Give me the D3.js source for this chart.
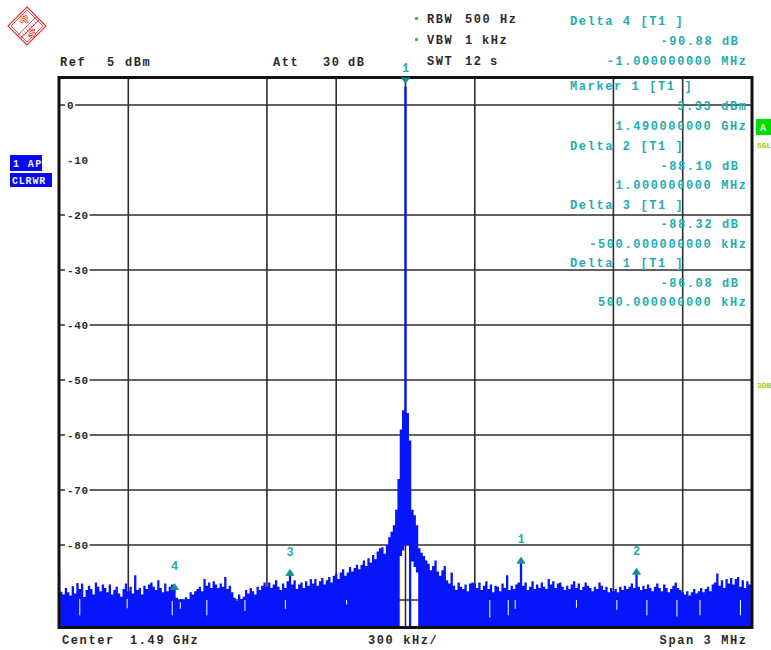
<!DOCTYPE html>
<html>
<head>
<meta charset="utf-8">
<script src="https://cdn.jsdelivr.net/npm/d3@7"></script>
<style>
  body { margin: 0; background: #fff; }
  svg { display: block; }
  text { font-family: "Liberation Mono", "DejaVu Sans Mono", monospace; font-weight: bold; white-space: pre; }
</style>
</head>
<body>
<svg id="chart" width="771" height="650"></svg>
<script>
// spectrum trace, 10 kHz per point, -1500 .. +1500 kHz from centre (dBm)
const freqStartKHz = -1500;
const freqStepKHz = 10;
const traceDbm = [
  -85.0, -88.5, -89.0, -87.8, -88.6, -89.2, -87.5, -88.8, -86.9, -88.0,
  -87.0, -89.5, -88.2, -87.4, -88.0, -89.0, -86.8, -87.6, -88.4, -87.2,
  -87.8, -88.6, -87.2, -89.0, -88.2, -87.6, -88.8, -89.4, -88.0, -87.0,
  -88.4, -87.6, -88.8, -85.5, -88.2, -87.8, -89.0, -87.4, -88.0, -87.2,
  -86.8, -87.6, -88.2, -86.4, -87.8, -88.6, -87.0, -88.4, -87.6, -87.2,
  -87.55, -89.6, -90.0, -89.8, -90.0, -89.5, -89.8, -88.6, -89.0, -88.4,
  -88.0, -87.6, -88.4, -86.2, -87.4, -86.8, -87.8, -86.6, -87.2, -87.8,
  -87.0, -87.6, -85.8, -88.0, -87.4, -88.6, -89.6, -90.2, -89.0, -89.8,
  -89.4, -88.2, -88.8, -87.8, -88.4, -89.0, -87.6, -88.2, -87.4, -86.8,
  -87.6, -86.8, -87.8, -87.2, -86.4, -87.6, -88.2, -87.0, -87.8, -86.6,
  -84.99, -87.2, -86.4, -88.0, -87.2, -86.8, -87.8, -86.6, -87.4, -86.2,
  -87.0, -86.2, -87.4, -86.6, -86.0, -87.2, -86.4, -85.8, -86.8, -85.6,
  -85.2, -86.2, -85.0, -84.4, -85.6, -85.0, -84.0, -84.8, -84.2, -83.6,
  -84.4, -83.6, -82.8, -83.8, -82.4, -83.2, -81.8, -82.6, -81.2, -80.6,
  -80.4, -81.6, -80.0, -78.6, -77.6, -76.4, -73.6, -68.0, -59.0, -55.5,
  3.33, -56.0, -61.0, -73.6, -74.6, -76.4, -80.6, -81.4, -82.0, -82.8,
  -83.4, -84.6, -83.8, -82.8, -84.8, -85.6, -84.6, -83.8, -86.4, -87.0,
  -85.0, -87.4, -88.2, -86.8, -87.6, -88.0, -87.2, -88.4, -87.0, -86.8,
  -87.0, -87.8, -86.8, -88.2, -87.4, -86.6, -88.0, -87.2, -88.6, -87.4,
  -87.6, -88.4, -87.0, -87.8, -85.5, -88.2, -87.4, -88.0, -87.2, -86.8,
  -82.75, -87.4, -86.8, -88.2, -87.6, -86.6, -88.0, -87.2, -87.8, -86.8,
  -87.6, -88.0, -86.2, -87.2, -86.6, -87.8, -87.0, -86.8, -87.6, -88.2,
  -87.4, -88.0, -87.2, -86.6, -87.8, -87.0, -88.2, -87.6, -86.8, -87.4,
  -87.8, -88.4, -87.6, -88.0, -86.8, -87.4, -88.2, -87.6, -88.6, -87.8,
  -88.4, -88.0, -88.6, -87.6, -88.2, -87.4, -88.0, -87.6, -87.0, -87.8,
  -84.77, -87.6, -88.2, -87.4, -88.0, -87.2, -87.8, -88.4, -87.6, -87.0,
  -87.8, -88.4, -87.2, -87.8, -88.6, -88.0, -87.4, -86.8, -87.8, -88.2,
  -88.6, -89.0, -88.4, -89.2, -88.6, -88.0, -88.8, -88.4, -87.8, -88.6,
  -88.0, -87.6, -88.4, -87.2, -86.8, -85.2, -87.4, -86.4, -87.8, -86.2,
  -87.0, -86.0, -87.2, -86.2, -85.8, -87.6, -86.4, -87.8, -86.6, -87.2,
  -87.0
];
// under the carrier the trace does not reach the bottom line
const gapFreqKHz = [-30, -20, -10, 0, 10, 20, 30, 40, 50, 60];
const gapFloorDbm = [-95, -82, -81, -80, -80, -95, -83, -84, -85, -95];
// thin uncovered slivers inside the noise band
const sliverKHz = [-1410, -1205, -1010, -975, -860, -695, -520, -255, 365, 445, 475, 740, 915, 1045, 1175, 1275, 1450];
const sliverTopDbm = [-89.8, -89.8, -90.2, -90.4, -90.0, -90.0, -90.0, -90.0, -90.0, -90.0, -90.0, -90.0, -90.0, -90.0, -90.0, -90.0, -90.0];
const sliverBottomDbm = [-92.8, -91.5, -92.8, -91.6, -92.8, -92.0, -91.6, -90.8, -93.2, -92.8, -91.6, -91.4, -91.8, -92.8, -93.0, -92.8, -92.8];

const refDbm = 5;
const bottomDbm = -95;
const yTickDbm = [0, -10, -20, -30, -40, -50, -60, -70, -80, -90];
const yGridDbm = [0, -20, -30, -40, -50, -60, -70, -80, -90];
const xGridKHz = [-1200, -600, -300, 0, 300, 900, 1200];

const marker1Dbm = 3.33;
const deltaNames = ['1', '2', '3', '4'];
const deltaOffsetKHz = [500, 1000, -500, -1000];
const deltaDb = [-86.08, -88.10, -88.32, -90.88];

const topInfo = ['Delta 4 [T1 ]', '-90.88 dB', '-1.000000000 MHz'];
const markerInfo = [
  'Marker 1 [T1 ]', '3.33 dBm', '1.490000000 GHz',
  'Delta 2 [T1 ]', '-88.10 dB', '1.000000000 MHz',
  'Delta 3 [T1 ]', '-88.32 dB', '-500.000000000 kHz',
  'Delta 1 [T1 ]', '-86.08 dB', '500.000000000 kHz'
];

const TEAL = '#1fadb0';
const TEAL_DARK = '#0f8f90';
const INK = '#2a2a2a';
const BLUE = '#0616f8';
const LS = 1.6; // letter spacing -> ~8.8px pitch

const svg = d3.select('#chart');
const x = d3.scaleLinear().domain([-1500, 1500]).range([59, 752]);
const y = d3.scaleLinear().domain([bottomDbm, refDbm]).range([627.5, 77.5]);

function txt(px, py, s, o = {}) {
  const anchor = o.anchor || 'start';
  const ls = o.ls == null ? LS : o.ls;
  return svg.append('text')
    .attr('x', anchor === 'end' ? px + ls : px)
    .attr('y', py)
    .attr('dy', '0.36em')
    .attr('text-anchor', anchor)
    .style('font-size', (o.size || 12) + 'px')
    .style('letter-spacing', ls + 'px')
    .attr('fill', o.fill || INK)
    .text(s);
}

// grid
const grid = svg.append('g').attr('stroke', '#2e2e2e').attr('stroke-width', 1.6);
grid.selectAll('line.v').data(xGridKHz).join('line').attr('class', 'v')
  .attr('x1', (d) => x(d)).attr('x2', (d) => x(d))
  .attr('y1', y(refDbm)).attr('y2', y(bottomDbm));
grid.selectAll('line.h').data(yGridDbm).join('line').attr('class', 'h')
  .attr('x1', x(-1500)).attr('x2', x(1500))
  .attr('y1', (d) => y(d)).attr('y2', (d) => y(d));

// level labels, cut out of the grid
yTickDbm.forEach((d) => {
  const s = d === 0 ? '0' : '-' + Math.abs(d);
  const w = s.length * 7.2;
  svg.append('rect').attr('x', 65).attr('y', y(d) - 5).attr('width', w + 3).attr('height', 10).attr('fill', '#fff');
  txt(67, y(d), s, { size: 11, ls: 0.6 });
});

// trace
const pts = traceDbm.map((v, i) => {
  const f = freqStartKHz + i * freqStepKHz;
  const gi = gapFreqKHz.indexOf(f);
  return { f, hi: Math.max(v, bottomDbm), lo: gi >= 0 ? gapFloorDbm[gi] : bottomDbm };
});
svg.append('path').datum(pts)
  .attr('fill', BLUE)
  .attr('d', d3.area().curve(d3.curveStep).x((d) => x(d.f)).y0((d) => y(d.lo)).y1((d) => y(d.hi)));
svg.append('g').attr('stroke', '#fff').attr('stroke-width', 1)
  .selectAll('line').data(sliverKHz).join('line')
  .attr('x1', (d) => x(d)).attr('x2', (d) => x(d))
  .attr('y1', (d, i) => y(sliverTopDbm[i])).attr('y2', (d, i) => y(sliverBottomDbm[i]));

// frame
svg.append('rect').attr('x', x(-1500)).attr('y', y(refDbm))
  .attr('width', x(1500) - x(-1500)).attr('height', y(bottomDbm) - y(refDbm))
  .attr('fill', 'none').attr('stroke', '#111').attr('stroke-width', 3);

// markers
const m1x = x(0);
svg.append('path').attr('d', `M${m1x - 5},${y(refDbm)} L${m1x + 5},${y(refDbm)} L${m1x},${y(refDbm) + 6} Z`).attr('fill', TEAL_DARK);
txt(m1x, 68, '1', { anchor: 'middle', fill: TEAL, ls: 0 });
deltaNames.forEach((n, i) => {
  const mx = x(deltaOffsetKHz[i]);
  const my = y(marker1Dbm + deltaDb[i]);
  svg.append('path').attr('d', `M${mx - 4},${my + 3} L${mx},${my - 3} L${mx + 4},${my + 3} Z`)
    .attr('fill', TEAL_DARK).attr('stroke', TEAL_DARK).attr('stroke-width', 0.8);
  txt(mx, my - 21, n, { anchor: 'middle', fill: TEAL, ls: 0 });
});

// marker readouts
txt(570, 21, topInfo[0], { fill: TEAL });
txt(738, 41, topInfo[1], { fill: TEAL, anchor: 'end' });
txt(746, 61, topInfo[2], { fill: TEAL, anchor: 'end' });
const infoY = [86, 106, 126, 146, 166, 185, 205, 224, 244, 263, 283, 302];
markerInfo.forEach((s, i) => {
  if (i % 3 === 0) txt(570, infoY[i], s, { fill: TEAL });
  else txt(s.endsWith(' dB') ? 738 : 746, infoY[i], s, { fill: TEAL, anchor: 'end' });
});

// header
txt(60, 62, 'Ref');
txt(107, 62, '5');
txt(125, 62, 'dBm');
txt(273, 62, 'Att');
txt(323, 62, '30');
txt(348, 62, 'dB');
txt(427, 19, 'RBW'); txt(465, 19, '500'); txt(500, 19, 'Hz');
txt(427, 40, 'VBW'); txt(465, 40, '1'); txt(482, 40, 'kHz');
txt(427, 61, 'SWT'); txt(465, 61, '12'); txt(490, 61, 's');
svg.append('rect').attr('x', 415).attr('y', 17).attr('width', 3).attr('height', 3).attr('fill', '#3c3');
svg.append('rect').attr('x', 415).attr('y', 38).attr('width', 3).attr('height', 3).attr('fill', '#3c3');

// footer
txt(62, 640, 'Center');
txt(130, 640, '1.49');
txt(173, 640, 'GHz');
txt(368, 640, '300 kHz/');
txt(746, 640, 'Span 3 MHz', { anchor: 'end' });

// side boxes
svg.append('rect').attr('x', 10).attr('y', 155).attr('width', 32).attr('height', 16).attr('fill', '#0a0af0');
txt(13, 163, '1 AP', { size: 10, ls: 1.4, fill: '#eef' });
svg.append('rect').attr('x', 10).attr('y', 173).attr('width', 42).attr('height', 14).attr('fill', '#0a0af0');
txt(12, 180, 'CLRWR', { size: 10, ls: 0.8, fill: '#eef' });
svg.append('rect').attr('x', 756).attr('y', 119).attr('width', 16).attr('height', 16).attr('fill', '#00dc00');
txt(760, 127, 'A', { size: 10, ls: 0, fill: '#dfd' });
txt(757, 145, 'SGL', { size: 8, ls: 0, fill: '#a6c800' });
txt(757, 385, '3DB', { size: 8, ls: 0, fill: '#a6c800' });

// R&S logo
const logo = svg.append('g').attr('transform', 'translate(27,26)').attr('fill', 'none').attr('stroke', '#e8262b');
logo.append('path').attr('d', 'M0,-19 L19,0 L0,19 L-19,0 Z').attr('stroke-width', 1.1);
logo.append('path').attr('d', 'M0,-16 L16,0 L0,16 L-16,0 Z').attr('stroke-width', 0.8);
logo.append('path').attr('d', 'M9,-9 L-9,9 M12,-6 L-6,12').attr('stroke-width', 0.8);
d3.range(-8, 9, 2).forEach((t) => {
  logo.append('line').attr('x1', t + 1.5).attr('y1', -t + 1.5).attr('x2', t + 3.5).attr('y2', -t + 3.5).attr('stroke-width', 0.7);
});
logo.append('text').attr('x', -7).attr('y', -3).attr('fill', '#fff').attr('stroke', '#e8262b').attr('stroke-width', 0.7)
  .style('font-size', '11px').style('font-family', 'DejaVu Sans').text('R');
logo.append('text').attr('x', 1).attr('y', 11).attr('fill', '#fff').attr('stroke', '#e8262b').attr('stroke-width', 0.7)
  .style('font-size', '11px').style('font-family', 'DejaVu Sans').text('S');
</script>
</body>
</html>
